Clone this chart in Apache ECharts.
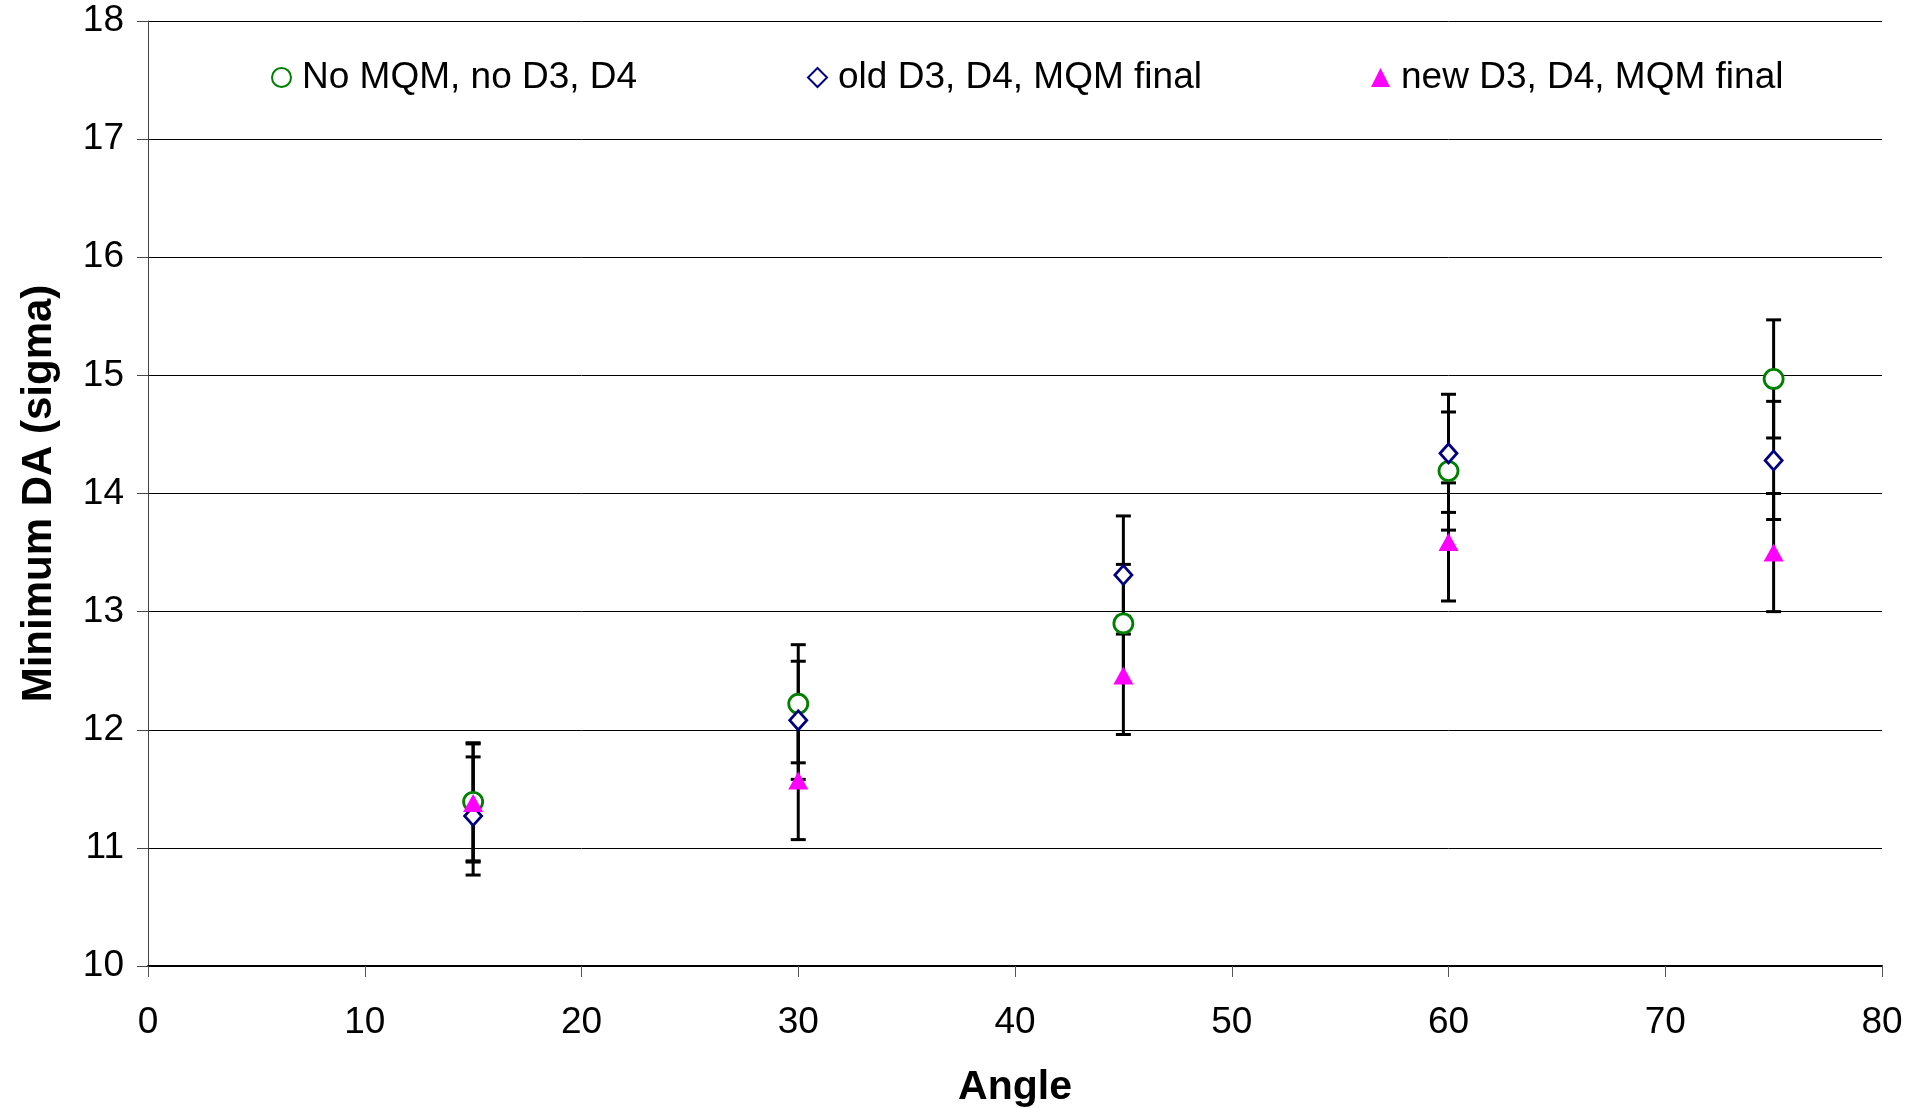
<!DOCTYPE html>
<html>
<head>
<meta charset="utf-8">
<title>Minimum DA vs Angle</title>
<script src="https://cdn.jsdelivr.net/npm/echarts@6/dist/echarts.min.js"></script>
<style>
  html, body { margin: 0; padding: 0; background: #fff; }
  #chart { width: 1909px; height: 1109px; }
</style>
</head>
<body>
<div id="chart"></div>
<script>
// angles (x) shared by all series
const angles = [15, 30, 45, 60, 75];

// minimum DA
const noMqm = [11.39, 12.22, 12.90, 14.19, 14.97];
const oldD3 = [11.27, 12.08, 13.31, 14.34, 14.28];
const newD3 = [11.38, 11.57, 12.46, 13.59, 13.50];

// half width of each error bar
const errNoMqm = [0.5, 0.5, 0.5, 0.5, 0.5];
const errOld = [0.5, 0.5, 0.5, 0.5, 0.5];
const errNew = [0.5, 0.5, 0.5, 0.5, 0.5];

const seriesNames = ['No MQM, no D3, D4', 'old D3, D4, MQM final', 'new D3, D4, MQM final'];

const FONT = 'Liberation Sans, Arial, sans-serif';

function points(vals) {
  return angles.map((a, i) => [a, vals[i]]);
}

function bars(vals, errs) {
  return angles.map((a, i) => [a, vals[i] - errs[i], vals[i] + errs[i]]);
}

function renderErrorBar(params, api) {
  const x = api.value(0);
  const lo = api.coord([x, api.value(1)]);
  const hi = api.coord([x, api.value(2)]);
  const half = 7.5;
  const style = { stroke: '#000', lineWidth: 3 };
  return {
    type: 'group',
    children: [
      { type: 'line', shape: { x1: lo[0], y1: lo[1], x2: hi[0], y2: hi[1] }, style: style },
      { type: 'line', shape: { x1: lo[0] - half, y1: lo[1], x2: lo[0] + half, y2: lo[1] }, style: style },
      { type: 'line', shape: { x1: hi[0] - half, y1: hi[1], x2: hi[0] + half, y2: hi[1] }, style: style }
    ]
  };
}

function errorSeries(vals, errs) {
  return {
    type: 'custom',
    renderItem: renderErrorBar,
    data: bars(vals, errs),
    encode: { x: 0, y: [1, 2] },
    silent: true,
    z: 2
  };
}

function legendAt(left, name) {
  return {
    data: [name],
    left: left,
    top: 59,
    padding: 0,
    itemWidth: 19,
    itemHeight: 19,
    textStyle: { fontFamily: FONT, fontSize: 37, color: '#000', padding: [0, 0, 0, 6] }
  };
}

const chart = echarts.init(document.getElementById('chart'));

const option = {
  backgroundColor: '#fff',
  animation: false,
  grid: { left: 148, right: 27, top: 21, bottom: 143, outerBoundsMode: 'none' },
  legend: [
    legendAt(271, seriesNames[0]),
    legendAt(807, seriesNames[1]),
    legendAt(1371, seriesNames[2])
  ],
  xAxis: {
    type: 'value',
    min: 0,
    max: 80,
    interval: 10,
    name: 'Angle',
    nameLocation: 'middle',
    nameGap: 101,
    nameTextStyle: { fontFamily: FONT, fontSize: 41, fontWeight: 'bold', color: '#000' },
    axisLine: { show: true, lineStyle: { color: '#000', width: 2 } },
    axisTick: { show: true, length: 11, lineStyle: { color: '#555', width: 1 } },
    axisLabel: { fontFamily: FONT, fontSize: 37, color: '#000', margin: 38 },
    splitLine: { show: false }
  },
  yAxis: {
    type: 'value',
    min: 10,
    max: 18,
    interval: 1,
    name: 'Minimum DA (sigma)',
    nameLocation: 'middle',
    nameGap: 88,
    nameTextStyle: { fontFamily: FONT, fontSize: 42, fontWeight: 'bold', color: '#000' },
    axisLine: { show: true, lineStyle: { color: '#444', width: 1 } },
    axisTick: { show: true, length: 11, lineStyle: { color: '#444', width: 1 } },
    axisLabel: { fontFamily: FONT, fontSize: 37, color: '#000', margin: 24 },
    splitLine: { show: true, lineStyle: { color: '#000', width: 1 } }
  },
  series: [
    errorSeries(noMqm, errNoMqm),
    errorSeries(oldD3, errOld),
    errorSeries(newD3, errNew),
    {
      name: seriesNames[0],
      type: 'scatter',
      symbol: 'circle',
      symbolSize: 19,
      data: points(noMqm),
      itemStyle: { color: '#fff', borderColor: '#008000', borderWidth: 2.8, opacity: 1 },
      z: 3
    },
    {
      name: seriesNames[1],
      type: 'scatter',
      symbol: 'diamond',
      symbolSize: [17, 19],
      data: points(oldD3),
      itemStyle: { color: '#fff', borderColor: '#000080', borderWidth: 2.8, opacity: 1 },
      z: 4
    },
    {
      name: seriesNames[2],
      type: 'scatter',
      symbol: 'triangle',
      symbolSize: [20, 18],
      data: points(newD3),
      itemStyle: { color: '#ff00ff', opacity: 1 },
      z: 5
    }
  ]
};

chart.setOption(option);
</script>
</body>
</html>
